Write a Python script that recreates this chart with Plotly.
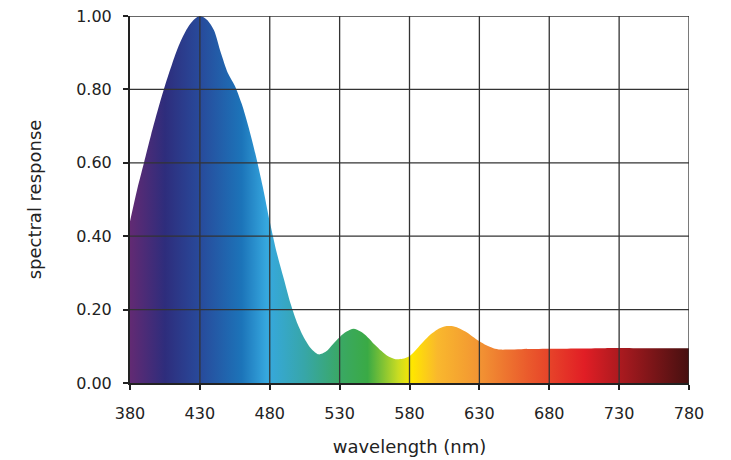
import plotly.graph_objects as go

wavelength = [380, 385, 390, 395, 400, 405, 410, 415, 420, 425, 430, 435, 440, 445, 450,
              455, 460, 465, 470, 475, 480, 485, 490, 495, 500, 505, 510, 515, 520, 525,
              530, 535, 540, 545, 550, 555, 560, 565, 570, 575, 580, 585, 590, 595, 600,
              605, 610, 615, 620, 625, 630, 635, 640, 645, 650, 660, 680, 700, 720, 740,
              760, 780]
response = [0.44, 0.525, 0.60, 0.675, 0.745, 0.81, 0.868, 0.92, 0.96, 0.987, 1.00, 0.99, 0.962,
            0.90, 0.845, 0.81, 0.76, 0.695, 0.62, 0.535, 0.44, 0.355, 0.285, 0.215, 0.16,
            0.12, 0.092, 0.078, 0.085, 0.105, 0.125, 0.14, 0.148, 0.14, 0.125, 0.105, 0.087,
            0.072, 0.065, 0.066, 0.073, 0.092, 0.113, 0.132, 0.146, 0.154, 0.155, 0.15, 0.14,
            0.127, 0.114, 0.103, 0.095, 0.091, 0.091, 0.092, 0.093, 0.094, 0.095, 0.095,
            0.095, 0.095]

x_ticks = [380, 430, 480, 530, 580, 630, 680, 730, 780]
y_ticks = [0.0, 0.2, 0.4, 0.6, 0.8, 1.0]
y_tick_labels = ["0.00", "0.20", "0.40", "0.60", "0.80", "1.00"]

spectrum_nm = [380, 405, 430, 460, 478, 505, 530, 550, 572, 582, 600, 630, 665, 705, 735, 780]
spectrum_col = ["#622a73", "#2e2d7c", "#284a9b", "#1c74b9", "#36a8df", "#37a6a8", "#3aa865",
                "#3aaa45", "#c9dc22", "#ffe600", "#f9b82d", "#f29433", "#ea5a2c", "#e11e25",
                "#a2191e", "#461010"]

x0, x1 = x_ticks[0], x_ticks[-1]
colorscale = [[(w - x0) / (x1 - x0), c] for w, c in zip(spectrum_nm, spectrum_col)]

fig = go.Figure()
fig.add_trace(go.Scatter(
    x=wavelength, y=response, mode="lines", line=dict(width=0, shape="spline", smoothing=0.8),
    fill="tozeroy",
    fillgradient=dict(type="horizontal", colorscale=colorscale, start=x0, stop=x1),
    hoverinfo="skip", showlegend=False,
))

grid_col = "#333333"
for xv in x_ticks[1:]:
    fig.add_shape(type="line", xref="x", yref="y", x0=xv, x1=xv, y0=0, y1=1,
                  line=dict(color=grid_col, width=1.3), layer="above")
for yv in y_ticks[1:]:
    fig.add_shape(type="line", xref="x", yref="y", x0=x0, x1=x1, y0=yv, y1=yv,
                  line=dict(color=grid_col, width=1.3), layer="above")

font_family = "DejaVu Sans, sans-serif"
fig.update_layout(
    width=731, height=460,
    margin=dict(l=122, r=50, t=8, b=85),
    paper_bgcolor="white", plot_bgcolor="white",
    font=dict(family=font_family, size=16, color="#222222"),
    xaxis=dict(range=[x0, x1], tickvals=x_ticks, ticktext=[str(v) for v in x_ticks],
               automargin=False, ticklabeloverflow="allow",
               showgrid=False, zeroline=False, showline=True, linecolor="#222222", linewidth=2,
               ticks="outside", ticklen=5, tickwidth=2, tickcolor="#222222",
               ticklabelstandoff=10, tickfont=dict(size=16),
               title=dict(text="wavelength (nm)", font=dict(size=18), standoff=18),
               layer="above traces"),
    yaxis=dict(range=[0, 1], tickvals=y_ticks, ticktext=y_tick_labels,
               automargin=False, ticklabeloverflow="allow",
               showgrid=False, zeroline=False, showline=True, linecolor="#222222", linewidth=2,
               ticks="outside", ticklen=5, tickwidth=2, tickcolor="#222222",
               ticklabelstandoff=8, tickfont=dict(size=16),
               title=dict(text="spectral response", font=dict(size=18), standoff=30),
               layer="above traces"),
)

fig.write_html("out.html")
